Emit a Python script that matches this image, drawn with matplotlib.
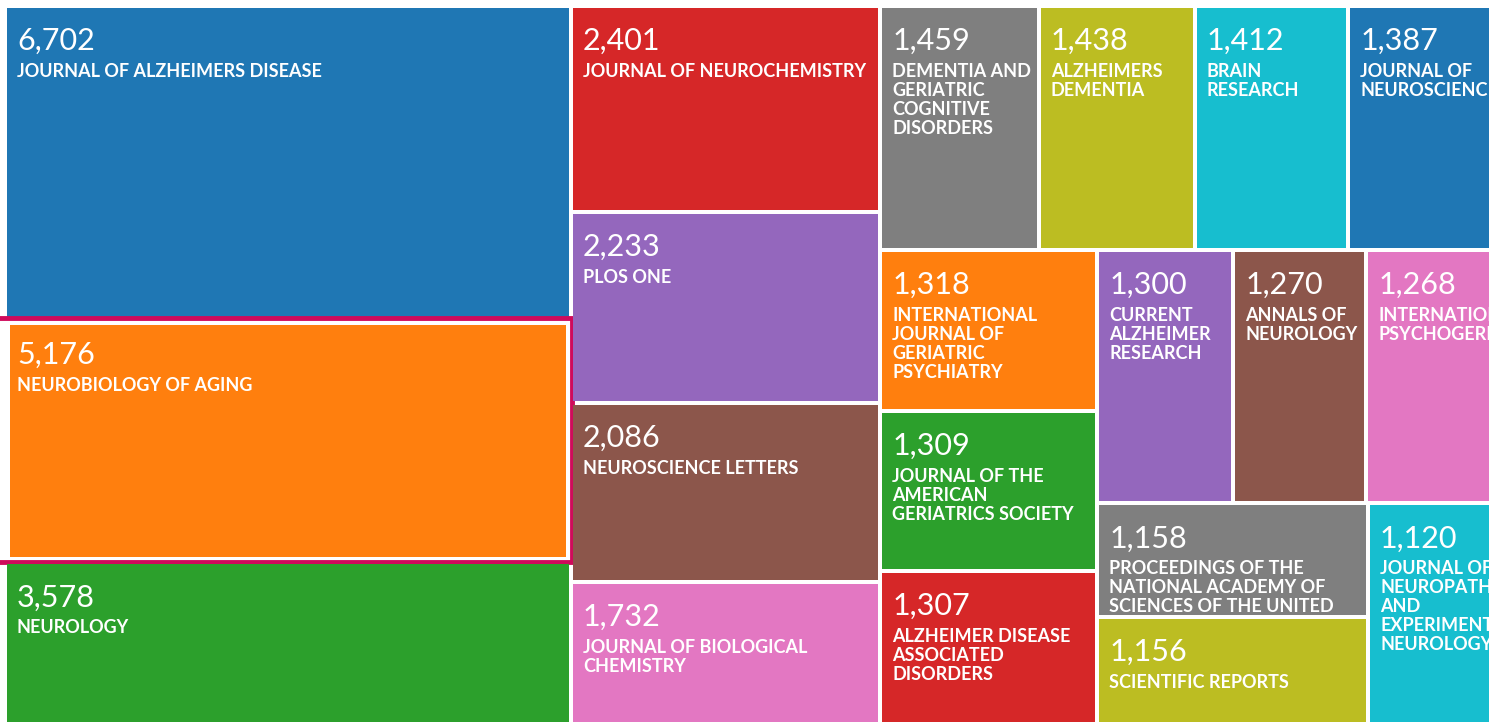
import matplotlib
matplotlib.use("Agg")
import matplotlib.pyplot as plt
from matplotlib.patches import Rectangle

# record counts per publication title
titles = [
    "JOURNAL OF ALZHEIMERS DISEASE", "NEUROBIOLOGY OF AGING", "NEUROLOGY",
    "JOURNAL OF NEUROCHEMISTRY", "PLOS ONE", "NEUROSCIENCE LETTERS",
    "JOURNAL OF BIOLOGICAL CHEMISTRY",
    "DEMENTIA AND GERIATRIC COGNITIVE DISORDERS", "ALZHEIMERS DEMENTIA",
    "BRAIN RESEARCH", "JOURNAL OF NEUROSCIENCE",
    "INTERNATIONAL JOURNAL OF GERIATRIC PSYCHIATRY",
    "JOURNAL OF THE AMERICAN GERIATRICS SOCIETY",
    "ALZHEIMER DISEASE ASSOCIATED DISORDERS",
    "CURRENT ALZHEIMER RESEARCH", "ANNALS OF NEUROLOGY",
    "INTERNATIONAL PSYCHOGERIATRICS",
    "PROCEEDINGS OF THE NATIONAL ACADEMY OF SCIENCES OF THE UNITED STATES OF AMERICA",
    "SCIENTIFIC REPORTS",
    "JOURNAL OF NEUROPATHOLOGY AND EXPERIMENTAL NEUROLOGY",
]
counts = [6702, 5176, 3578, 2401, 2233, 2086, 1732, 1459, 1438, 1412, 1387,
          1318, 1309, 1307, 1300, 1270, 1268, 1158, 1156, 1120]
selected = 1

palette = ["#1f77b4", "#ff7f0e", "#2ca02c", "#d62728", "#9467bd",
           "#8c564b", "#e377c2", "#7f7f7f", "#bcbd22", "#17becf"]

# nesting of the tiles: "h" = side by side, "v" = stacked
tree = ("h", [("v", [0, 1, 2]),
              ("v", [3, 4, 5, 6]),
              ("v", [("h", [7, 8, 9, 10]),
                     ("h", [("v", [11, 12, 13]),
                            ("v", [("h", [14, 15, 16]),
                                   ("h", [("v", [17, 18]), 19])])])])])


def total(node):
    if isinstance(node, int):
        return counts[node]
    return sum(total(k) for k in node[1])


def place(node, x0, y0, x1, y1, out):
    if isinstance(node, int):
        out[node] = (x0, y0, x1, y1)
        return
    kind, kids = node
    t = total(node)
    pos = x0 if kind == "h" else y0
    for k in kids:
        span = ((x1 - x0) if kind == "h" else (y1 - y0)) * total(k) / t
        if kind == "h":
            place(k, pos, y0, pos + span, y1, out)
        else:
            place(k, x0, pos, x1, pos + span, out)
        pos += span


W, H = 1489, 722
fig = plt.figure(figsize=(W / 100, H / 100), dpi=100)
ax = fig.add_axes([0, 0, 1, 1])
ax.set_xlim(0, W)
ax.set_ylim(H, 0)
ax.axis("off")

rects = {}
# the treemap runs a little past the right and bottom edge of the view
place(tree, 5, 6, 1499, 730, rects)

renderer = fig.canvas.get_renderer()
lab_font = dict(family=["Lato", "DejaVu Sans"], fontsize=13, fontweight="bold")
num_font = dict(family=["Lato", "DejaVu Sans"], fontsize=22)


def text_width(s):
    t = ax.text(0, 0, s, **lab_font)
    w = t.get_window_extent(renderer).width
    t.remove()
    return w


def wrap(s, maxw):
    lines, cur = [], ""
    for word in s.split():
        trial = (cur + " " + word).strip()
        if cur and text_width(trial) > maxw:
            lines.append(cur)
            cur = word
        else:
            cur = trial
    lines.append(cur)
    return lines


gap = 2
for i, (x0, y0, x1, y1) in rects.items():
    inset = gap + 3 if i == selected else gap
    patch = Rectangle((x0 + inset, y0 + inset), x1 - x0 - 2 * inset,
                      y1 - y0 - 2 * inset, facecolor=palette[i % 10],
                      edgecolor="none")
    ax.add_patch(patch)
    if i == selected:
        ax.add_patch(Rectangle((x0 - 12, y0 - 2), x1 - x0 + 13, y1 - y0 + 2,
                               facecolor="none", edgecolor="#cf0a5b",
                               linewidth=3.5))
    tx = x0 + gap + 10
    t = ax.text(tx, y0 + 44, f"{counts[i]:,}", color="white", va="baseline",
                clip_on=True, **num_font)
    t.set_clip_path(patch)
    for j, line in enumerate(wrap(titles[i], x1 - x0 - 2 * gap - 14)):
        t = ax.text(tx, y0 + 71 + 19 * j, line, color="white", va="baseline",
                    clip_on=True, **lab_font)
        t.set_clip_path(patch)

fig.savefig("out.png", dpi=100, facecolor="white")
